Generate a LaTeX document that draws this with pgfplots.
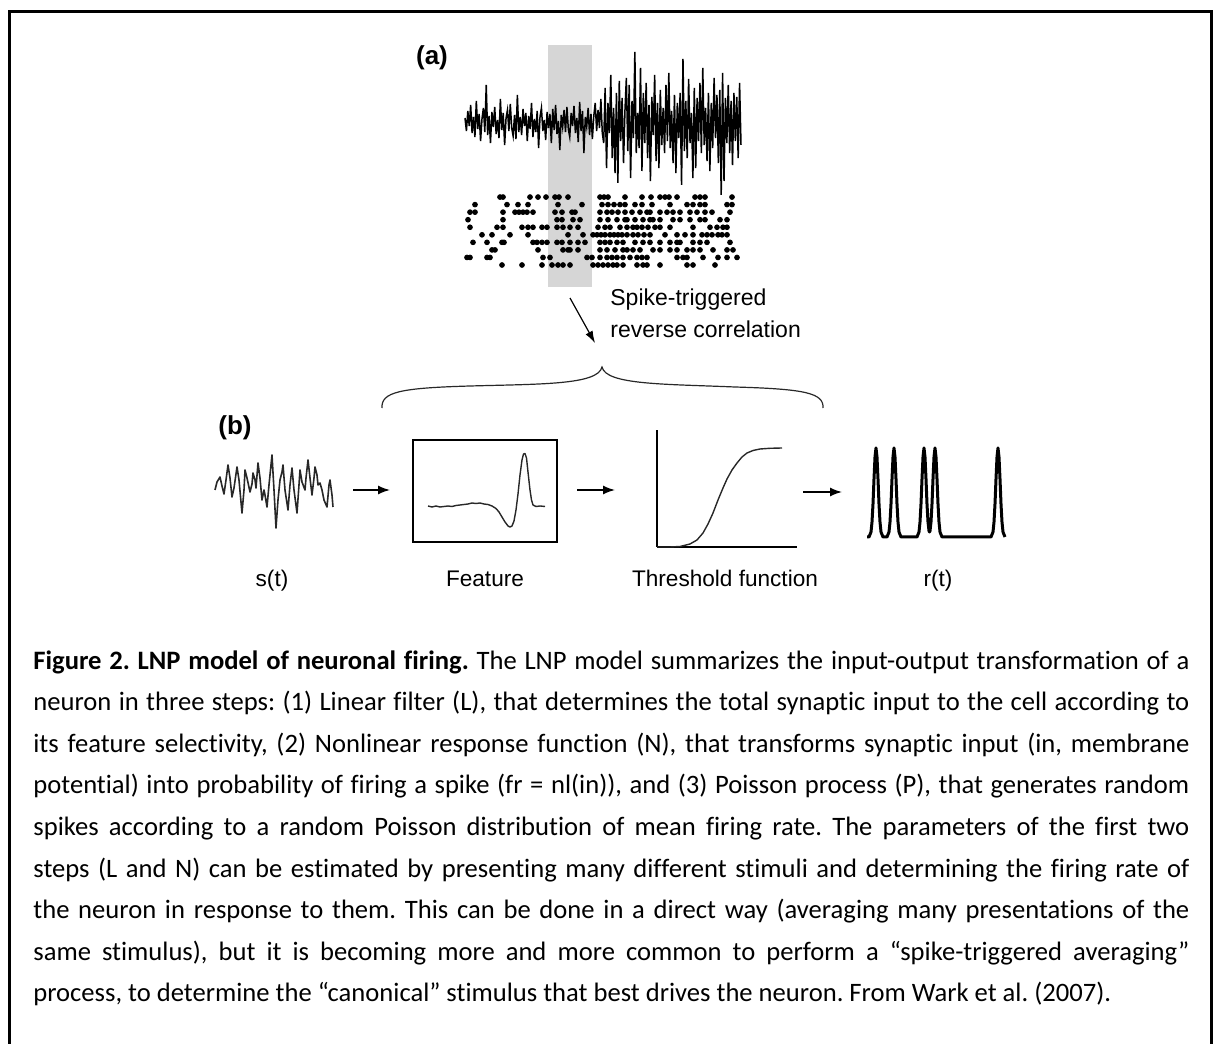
\documentclass[border=0pt]{standalone}
\usepackage{fontspec}
\setmainfont{Carlito}[Ligatures=NoCommon]
\newfontfamily\hv{Liberation Sans}
\usepackage{pgfplots}
\pgfplotsset{compat=1.18}
\usetikzlibrary{arrows.meta}

\definecolor{band}{RGB}{214,214,214}
\definecolor{ink}{RGB}{40,40,40}
\newlength\capw
\setlength\capw{578pt}
\frenchspacing

\pgfplotsset{
  panel/.style={scale only axis, hide axis, clip=false, enlargelimits=false, anchor=south west},
  framed/.style={scale only axis, clip=false, enlargelimits=false, anchor=south west, ticks=none},
  spk/.style={only marks, mark=*, mark size=1.2pt, black, mark options={fill=black, draw=black}},
}
\tikzset{arr/.style={line width=0.75pt, -{Latex[length=6pt,width=4.5pt]}}}

\begin{document}
\begin{tikzpicture}
\useasboundingbox (0,0) rectangle (608pt,522pt);

% page frame, annotations and caption (pixel grid, y downwards)
\begin{axis}[at={(0,0)}, anchor=south west, scale only axis, width=608pt, height=522pt,
  xmin=0, xmax=1216, ymin=0, ymax=1044, y dir=reverse, hide axis, clip=false]
  \fill[band] (548,45) rectangle (592,287);
  \draw[line width=1.5pt] (9.5,1070) -- (9.5,11.5) -- (1211.5,11.5) -- (1211.5,1070);

  \node[font=\hv\bfseries\fontsize{13}{15}\selectfont] at (432,58) {(a)};
  \node[font=\hv\bfseries\fontsize{13}{15}\selectfont] at (235,428) {(b)};

  \node[anchor=base west, inner sep=0pt, font=\hv\fontsize{11.5}{13}\selectfont] at (610,305) {Spike-triggered};
  \node[anchor=base west, inner sep=0pt, font=\hv\fontsize{11.5}{13}\selectfont] at (610,337) {reverse correlation};
  \draw[line width=0.6pt, -{Latex[length=6pt,width=4pt]}] (570,298) -- (595,343);

  % brace over the LN stages
  \draw[ink, line width=0.6pt] (382,408) .. controls (381,392) and (400,388) .. (470,386)
     .. controls (540,384) and (598,385) .. (602,367)
     .. controls (606,385) and (665,384) .. (735,387)
     .. controls (805,389) and (824,393) .. (823,408);

  \draw[arr] (353,490) -- (390,490);
  \draw[arr] (577,490) -- (615,490);
  \draw[arr] (803,492) -- (842,492);

  \begin{scope}[font=\hv\fontsize{11.3}{13}\selectfont]
    \node[anchor=base] at (272,586) {s(t)};
    \node[anchor=base] at (485,586) {Feature};
    \node[anchor=base] at (725,586) {Threshold function};
    \node[anchor=base] at (938,586) {r(t)};
  \end{scope}

  \node[anchor=base west, inner sep=0pt] at (33,669) {\parbox[t]{\capw}{\fontsize{13.3}{20.8}\selectfont
    \hbox to\capw{\textbf{Figure 2. LNP model of neuronal firing.} The LNP model summarizes the input-output transformation of a}
    \hbox to\capw{neuron in three steps: (1) Linear filter (L), that determines the total synaptic input to the cell according to}
    \hbox to\capw{its feature selectivity, (2) Nonlinear response function (N), that transforms synaptic input (in, membrane}
    \hbox to\capw{potential) into probability of firing a spike (fr = nl(in)), and (3) Poisson process (P), that generates random}
    \hbox to\capw{spikes according to a random Poisson distribution of mean firing rate. The parameters of the first two}
    \hbox to\capw{steps (L and N) can be estimated by presenting many different stimuli and determining the firing rate of}
    \hbox to\capw{the neuron in response to them. This can be done in a direct way (averaging many presentations of the}
    \hbox to\capw{same stimulus), but it is becoming more and more common to perform a “spike-triggered averaging”}
    \hbox{process, to determine the “canonical” stimulus that best drives the neuron. From Wark et al. (2007).}}};
\end{axis}

% (a) stimulus trace
\begin{axis}[panel, at={(232.5pt,424.5pt)}, width=138pt, height=71.5pt, ymin=-72, ymax=71]
\addplot[black, line width=0.75pt] table[row sep=\\, header=false, x expr=\coordindex, y index=0] {
5\\-8\\12\\-3\\18\\-10\\6\\-14\\22\\-6\\9\\-18\\4\\15\\-9\\38\\-12\\7\\-20\\11\\
-4\\16\\-11\\3\\-15\\24\\-7\\10\\-22\\5\\13\\-8\\19\\-5\\-13\\8\\-16\\28\\-9\\6\\
-12\\14\\-3\\10\\-18\\7\\-6\\20\\-14\\4\\-9\\12\\-25\\6\\15\\-8\\3\\-17\\11\\-5\\
9\\-20\\14\\-7\\18\\-11\\2\\-27\\8\\-4\\13\\-9\\16\\-6\\-14\\10\\-3\\17\\-10\\5\\
-19\\21\\-8\\12\\-30\\6\\-4\\15\\-12\\9\\-16\\7\\20\\-8\\13\\-5\\24\\-10\\
-20\\35\\-45\\20\\-10\\48\\-35\\15\\-50\\30\\-60\\42\\-18\\25\\-40\\12\\45\\-28\\38\\-55\\
22\\-15\\71\\-30\\10\\-25\\55\\-48\\30\\-20\\40\\-35\\18\\-58\\26\\-12\\48\\-38\\20\\-45\\
33\\-22\\15\\-30\\38\\-18\\50\\-25\\12\\-40\\28\\-50\\20\\-15\\30\\-62\\64\\-28\\22\\-35\\
44\\-20\\10\\-55\\35\\-45\\25\\-18\\40\\-30\\55\\-22\\15\\-38\\30\\-48\\20\\-25\\45\\-15\\
28\\-40\\33\\-72\\50\\-58\\25\\-20\\38\\-30\\22\\-42\\30\\-18\\26\\-35\\40\\-22\\
};
\end{axis}

% (a) spike raster, ten trials
\begin{axis}[panel, at={(232.5pt,387.6pt)}, width=138pt, height=37.75pt,
  xmin=465, xmax=741, ymin=0.5, ymax=10.5, y dir=reverse]
\addplot[spk] coordinates {(500,1)(503,1)(530,1)(538,1)(546,1)(555,1)(559,1)(568,1)(600,1)(604,1)(608,1)(625,1)(642,1)(651,1)(660,1)(665,1)(669,1)(677,1)(695,1)(700,1)(705,1)(732,1)};
\addplot[spk] coordinates {(475,2)(507,2)(518,2)(528,2)(558,2)(582,2)(602,2)(608,2)(614,2)(620,2)(625,2)(635,2)(642,2)(652,2)(670,2)(687,2)(693,2)(700,2)(705,2)(727,2)(732,2)};
\addplot[spk] coordinates {(470,3)(475,3)(503,3)(515,3)(519,3)(523,3)(527,3)(533,3)(555,3)(562,3)(572,3)(575,3)(600,3)(607,3)(612,3)(618,3)(625,3)(632,3)(640,3)(647,3)(650,3)(660,3)(667,3)(673,3)(680,3)(690,3)(697,3)(705,3)(712,3)(730,3)};
\addplot[spk] coordinates {(468,4)(503,4)(557,4)(562,4)(573,4)(580,4)(600,4)(608,4)(617,4)(625,4)(627,4)(635,4)(643,4)(650,4)(653,4)(660,4)(673,4)(680,4)(690,4)(700,4)(705,4)(720,4)(727,4)};
\addplot[spk] coordinates {(470,5)(497,5)(503,5)(522,5)(528,5)(533,5)(542,5)(547,5)(557,5)(563,5)(570,5)(578,5)(598,5)(605,5)(610,5)(620,5)(627,5)(633,5)(637,5)(642,5)(648,5)(655,5)(660,5)(670,5)(693,5)(710,5)(717,5)(723,5)(727,5)};
\addplot[spk] coordinates {(482,6)(492,6)(510,6)(528,6)(568,6)(583,6)(593,6)(597,6)(601,6)(605,6)(610,6)(614,6)(618,6)(622,6)(627,6)(633,6)(638,6)(644,6)(650,6)(665,6)(677,6)(685,6)(693,6)(702,6)(707,6)(712,6)(718,6)(722,6)(727,6)};
\addplot[spk] coordinates {(473,7)(487,7)(502,7)(504,7)(533,7)(537,7)(542,7)(547,7)(557,7)(562,7)(570,7)(578,7)(585,7)(600,7)(605,7)(610,7)(617,7)(623,7)(635,7)(643,7)(650,7)(660,7)(670,7)(677,7)(680,7)(693,7)(700,7)(707,7)(730,7)};
\addplot[spk] coordinates {(492,8)(495,8)(538,8)(563,8)(568,8)(570,8)(578,8)(600,8)(607,8)(615,8)(623,8)(627,8)(633,8)(640,8)(653,8)(660,8)(670,8)(677,8)(687,8)(693,8)(700,8)(713,8)(727,8)(733,8)};
\addplot[spk] coordinates {(467,9)(470,9)(487,9)(490,9)(543,9)(550,9)(587,9)(592,9)(600,9)(607,9)(612,9)(617,9)(623,9)(630,9)(637,9)(642,9)(647,9)(677,9)(683,9)(687,9)(703,9)(718,9)(727,9)(737,9)};
\addplot[spk] coordinates {(502,10)(522,10)(542,10)(552,10)(558,10)(563,10)(570,10)(593,10)(598,10)(603,10)(608,10)(613,10)(617,10)(623,10)(637,10)(643,10)(647,10)(660,10)(687,10)(693,10)(715,10)};
\end{axis}

% (b) stimulus s(t)
\begin{axis}[panel, at={(106.5pt,257pt)}, width=61pt, height=40pt,
  xmin=213, xmax=335, ymin=450, ymax=530, y dir=reverse]
\addplot[ink, line width=0.8pt, line join=round] coordinates {
(215,490)(217,482)(220,477)(222,486)(224,494)(226,480)(228,465)(230,478)(232,497)(234,488)
(237,467)(239,480)(242,513)(244,490)(245,470)(247,478)(250,492)(252,484)(253,473)(255,480)
(256,488)(258,463)(260,478)(262,500)(264,490)(265,495)(267,507)(269,485)(272,455)(274,490)
(276,528)(278,500)(280,480)(282,472)(283,465)(285,490)(288,510)(290,485)(292,468)(294,490)
(297,513)(299,485)(300,470)(302,482)(305,490)(306,478)(308,460)(310,478)(312,495)(314,478)
(315,467)(317,475)(318,485)(320,483)(322,490)(324,500)(327,507)(329,485)(330,480)(332,495)(333,507)};
\end{axis}

% (b) linear filter
\begin{axis}[framed, at={(206.5pt,251pt)}, width=72pt, height=51pt,
  xmin=413, xmax=557, ymin=440, ymax=542, y dir=reverse, axis line style={line width=1pt}]
\addplot[ink, line width=0.7pt, line join=round] coordinates {
(428,506)(432,507)(436,506)(440,507)(444,506.5)(448,506)(452,506.5)(456,505.5)(460,505)(464,504.5)
(468,504)(472,503)(476,503.5)(480,503)(484,504)(488,504.5)(492,506)(496,508.5)(499,512)(502,517)
(505,522)(508,526)(510,527)(512,526)(514,521)(516,510)(518,494)(520,475)(522,460)(523.5,454)
(525,453.5)(526.5,458)(528,472)(530,490)(531.5,500)(533,505)(536,506.5)(540,506)(545,506.5)};
\end{axis}

% (b) static nonlinearity
\begin{axis}[framed, at={(328.5pt,248.5pt)}, width=70pt, height=58.5pt,
  xmin=0, xmax=140, ymin=0, ymax=117, axis lines=left, axis line style={-, line width=1.2pt}]
\addplot[ink, line width=0.7pt, line join=round] coordinates {
(0,0)(13,0)(23,0.5)(33,3)(40,7)(46,14)(51,23)(56,34)(61,47)(66,59)(70,68)(75,77)(80,84)
(85,90)(90,94)(96,96.5)(103,98)(113,98.7)(125,99)};
\end{axis}

% (b) output rate r(t)
\begin{axis}[panel, at={(433.5pt,252pt)}, width=68pt, height=47.5pt,
  xmin=867, xmax=1003, ymin=-3, ymax=92]
\addplot[black, line width=1.5pt, line join=round] coordinates {
(867,0)(869,0)(871,5)(872,15)(873,33)(874,58)(875,80)(876,89)(877,80)(878,58)(879,33)(880,15)(881,5)(883,0)
(887,0)(889,5)(890,15)(891,33)(892,58)(893,80)(894,89)(895,80)(896,58)(897,33)(898,15)(899,5)(901,0)
(917,0)(919,5)(920,15)(921,33)(922,58)(923,80)(924,89)(925,80)(926,58)(927,33)(928,15)(929,6)(929.5,5)(930,6)
(931,15)(932,33)(933,58)(934,80)(935,89)(936,80)(937,58)(938,33)(939,15)(940,5)(942,0)
(991,0)(993,5)(994,15)(995,33)(996,58)(997,80)(998,89)(999,80)(1000,58)(1001,33)(1002,15)(1003,5)(1005,0)};
\end{axis}
\end{tikzpicture}
\end{document}
